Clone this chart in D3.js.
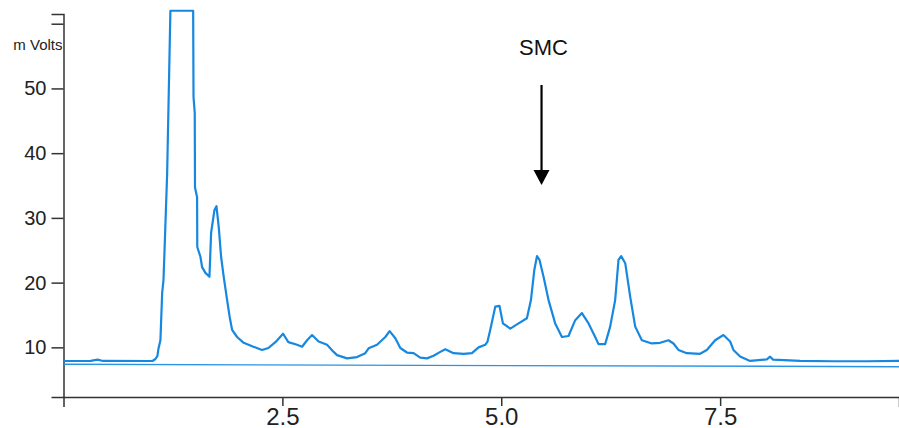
<!DOCTYPE html>
<html lang="en">
<head>
    <meta charset="utf-8">
    <title>Chromatogram - SMC</title>
    <script src="https://cdn.jsdelivr.net/npm/d3@7/dist/d3.min.js"></script>
    <style>
        html, body { margin: 0; padding: 0; background: #fff; }
        svg { display: block; font-family: "Liberation Sans", Arial, sans-serif; }
        .axis path, .axis line { stroke: #333; stroke-width: 1.5; }
        .axis text { fill: #222; }
    </style>
</head>
<body>
<svg width="899" height="428"></svg>
<script>
    // retention time (min) and detector signal (mVolts)
    var retentionTime = [0.00, 0.31, 0.39, 0.45, 1.016, 1.05, 1.073, 1.084, 1.107, 1.127, 1.142, 1.153, 1.184,
        1.221, 1.481, 1.485, 1.499, 1.502, 1.526, 1.528, 1.564, 1.583, 1.621, 1.667, 1.686, 1.724, 1.747,
        1.773, 1.80, 1.83, 1.869, 1.898, 1.926, 1.983, 2.058, 2.169, 2.268, 2.34, 2.42, 2.508, 2.568, 2.668,
        2.725, 2.782, 2.839, 2.914, 3.01, 3.086, 3.124, 3.239, 3.353, 3.447, 3.485, 3.581, 3.676, 3.725,
        3.79, 3.847, 3.923, 3.999, 4.075, 4.152, 4.227, 4.304, 4.361, 4.455, 4.57, 4.665, 4.741, 4.817,
        4.843, 4.874, 4.932, 4.98, 5.019, 5.103, 5.198, 5.293, 5.339, 5.377, 5.408, 5.437, 5.483, 5.54,
        5.616, 5.693, 5.768, 5.845, 5.921, 5.997, 6.073, 6.111, 6.187, 6.244, 6.301, 6.339, 6.37, 6.416,
        6.473, 6.53, 6.606, 6.72, 6.815, 6.91, 6.967, 7.024, 7.12, 7.271, 7.348, 7.443, 7.538, 7.614,
        7.652, 7.728, 7.842, 8.033, 8.071, 8.105, 8.413, 8.793, 9.175, 9.543];
    var signal = [7.89, 7.9, 8.1, 7.9, 7.89, 8.2, 8.67, 9.75, 11.1, 18.4, 20.4, 24.6, 36.9,
        62.0, 62.0, 48.7, 46.2, 34.7, 33.2, 25.5, 24.0, 22.4, 21.5, 20.9, 27.7, 31.2, 31.8,
        28.6, 24.0, 20.9, 17.3, 14.7, 12.7, 11.6, 10.7, 10.1, 9.6, 9.9, 10.8, 12.1, 10.8, 10.4,
        10.1, 11.1, 11.9, 10.9, 10.4, 9.3, 8.8, 8.3, 8.5, 9.1, 9.85, 10.4, 11.6, 12.5,
        11.4, 9.9, 9.2, 9.1, 8.4, 8.3, 8.7, 9.3, 9.7, 9.1, 9.0, 9.1, 10.0, 10.4,
        10.9, 12.7, 16.3, 16.4, 13.7, 12.9, 13.7, 14.5, 17.3, 21.9, 24.1, 23.5, 20.9, 17.3,
        13.7, 11.6, 11.75, 14.2, 15.3, 13.7, 11.6, 10.5, 10.5, 13.2, 17.3, 23.5, 24.1, 23.0,
        17.8, 13.2, 11.1, 10.6, 10.7, 11.1, 10.6, 9.6, 9.1, 9.0, 9.6, 11.1, 11.9, 10.9,
        9.6, 8.6, 7.9, 8.15, 8.55, 8.1, 7.9, 7.85, 7.85, 7.9];

    // drawn baseline
    var baselineTime = [0, 9.543];
    var baselineSignal = [7.38, 7.01];

    var xTicks = [2.5, 5.0, 7.5];
    var yTicks = [10, 20, 30, 40, 50, 60];

    var smcTime = 5.46;

    var svg = d3.select("svg");

    var x = d3.scaleLinear().domain([0, 9.543]).range([63.5, 899]);
    var y = d3.scaleLinear().domain([2.33, 61.5]).range([397, 14]);

    var trace = retentionTime.map(function (t, i) { return [t, signal[i]]; });
    var base = baselineTime.map(function (t, i) { return [t, baselineSignal[i]]; });

    var line = d3.line()
        .x(function (d) { return x(d[0]); })
        .y(function (d) { return y(d[1]); });

    // axes
    var yAxis = svg.append("g")
        .attr("class", "axis")
        .attr("transform", "translate(" + x(0) + ",0)")
        .call(d3.axisLeft(y)
            .tickValues(yTicks)
            .tickSize(12)
            .tickSizeOuter(12)
            .tickPadding(5)
            .tickFormat(function (d) { return d === 60 ? "" : d; }));
    yAxis.selectAll("text").style("font-size", "20px");

    var xAxis = svg.append("g")
        .attr("class", "axis")
        .attr("transform", "translate(0," + y.range()[0] + ")")
        .call(d3.axisBottom(x)
            .tickValues(xTicks)
            .tickSize(9)
            .tickSizeOuter(10)
            .tickPadding(2)
            .tickFormat(d3.format(".1f")));
    xAxis.selectAll("text").style("font-size", "24px");

    svg.append("text")
        .attr("x", x(0) - 1)
        .attr("y", 50)
        .attr("text-anchor", "end")
        .style("font-size", "15px")
        .style("fill", "#222")
        .text("m Volts");

    // baseline and chromatogram
    svg.append("path")
        .datum(base)
        .attr("fill", "none")
        .attr("stroke", "#2a93e6")
        .attr("stroke-width", 1.4)
        .attr("d", line);

    svg.append("path")
        .datum(trace)
        .attr("fill", "none")
        .attr("stroke", "#1788e0")
        .attr("stroke-width", 2.2)
        .attr("stroke-linejoin", "round")
        .attr("d", line);

    // SMC annotation
    var ax = x(smcTime);
    svg.append("text")
        .attr("x", ax + 2)
        .attr("y", 55)
        .attr("text-anchor", "middle")
        .style("font-size", "22px")
        .style("fill", "#111")
        .text("SMC");

    svg.append("line")
        .attr("x1", ax).attr("x2", ax)
        .attr("y1", 85).attr("y2", 172)
        .attr("stroke", "#000")
        .attr("stroke-width", 2.2);

    svg.append("path")
        .attr("d", "M" + (ax - 8) + ",170L" + (ax + 8) + ",170L" + ax + ",185Z")
        .attr("fill", "#000");
</script>
</body>
</html>
